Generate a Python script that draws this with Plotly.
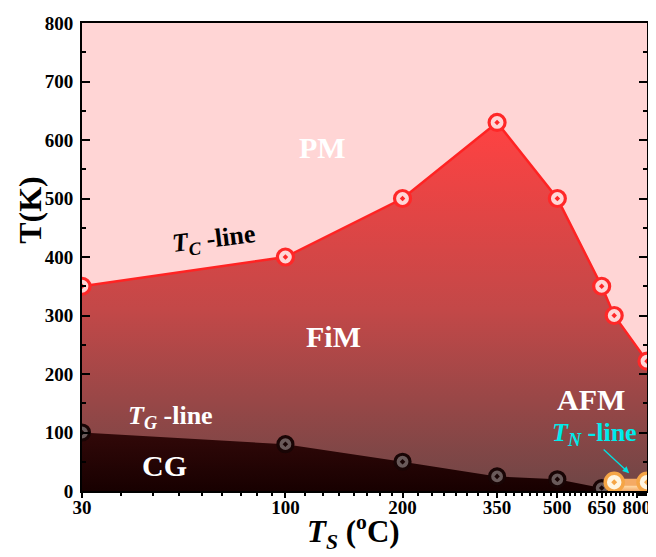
import numpy as np
import plotly.graph_objects as go

# ---- data ----
ts_tc = [30, 100, 200, 350, 500, 650, 700, 850]
tc = [350, 400, 500, 630, 500, 350, 300, 222]
ts_tg = [30, 100, 200, 350, 500, 650]
tg = [100, 80, 50, 25, 20, 5]
ts_tn = [700, 850]
tn = [15, 15]
x_ticks = [30, 100, 200, 350, 500, 650, 800]
y_ticks = [0, 100, 200, 300, 400, 500, 600, 700, 800]

FONT = "Liberation Serif"

# minor x ticks (linearly spaced between majors)
minor_x = []
edges = x_ticks + [850]
for i in range(len(edges) - 1):
    n = 9 if i == 0 else 8
    vals = np.linspace(edges[i], edges[i + 1], n + 1)[1:-1]
    minor_x.extend(vals.tolist())

fig = go.Figure()

# FiM region (under Tc line)
fig.add_trace(go.Scatter(
    x=ts_tc, y=tc, mode="none", fill="tozeroy",
    fillgradient=dict(type="vertical", start=0, stop=630,
                      colorscale=[[0, "rgb(108,70,70)"], [0.5, "rgb(195,72,72)"], [1, "rgb(255,66,66)"]]),
    hoverinfo="skip", showlegend=False))

# CG region (under Tg line)
fig.add_trace(go.Scatter(
    x=ts_tg + [680], y=tg + [0], mode="none", fill="tozeroy",
    fillgradient=dict(type="vertical", start=0, stop=100,
                      colorscale=[[0, "rgb(22,0,0)"], [1, "rgb(48,8,8)"]]),
    hoverinfo="skip", showlegend=False))

# AFM strip (under Tn line)
fig.add_trace(go.Scatter(
    x=ts_tn, y=tn, mode="lines", fill="tozeroy",
    line=dict(color="rgb(245,170,100)", width=7),
    fillgradient=dict(type="vertical", start=0, stop=15,
                      colorscale=[[0, "rgb(230,130,60)"], [1, "rgb(255,215,160)"]]),
    hoverinfo="skip", showlegend=False))

# Tc line + markers
fig.add_trace(go.Scatter(
    x=ts_tc, y=tc, mode="lines+markers",
    line=dict(color="rgb(255,35,35)", width=2.5),
    marker=dict(symbol="circle-dot", size=16, color="rgb(255,215,215)",
                line=dict(color="rgb(255,40,40)", width=3.2)),
    showlegend=False))

# Tg markers
fig.add_trace(go.Scatter(
    x=ts_tg, y=tg, mode="markers",
    marker=dict(symbol="circle-dot", size=15, color="rgb(105,90,90)",
                line=dict(color="rgb(25,5,5)", width=3.2)),
    showlegend=False))

# Tn markers
fig.add_trace(go.Scatter(
    x=ts_tn, y=tn, mode="markers",
    marker=dict(symbol="circle-dot", size=18, color="rgb(255,245,225)",
                line=dict(color="rgb(245,165,70)", width=3.5)),
    showlegend=False))

# page has an 8px body margin: lay the figure out so the plot area lands on
# page pixels left=82, right=651, top=19, bottom=491
OFF = 8
W, H = 656 - OFF, 557 - OFF
PL, PR, PT, PB = 82, 651, 19, 491
L, T = PL - OFF, PT - OFF
R = W - (PR - OFF)
B = H - (PB - OFF)
pw, ph = PR - PL, PB - PT
def px(xp): return (xp - PL) / pw
def py(yp): return (PB - yp) / ph

def ann(x, y, text, size, color, angle=0, **kw):
    fig.add_annotation(x=px(x), y=py(y), xref="paper", yref="paper", text=text,
                       showarrow=False, textangle=angle, xanchor="center", yanchor="middle",
                       font=dict(family=FONT, size=size, color=color), **kw)

ann(324, 145, "<b>PM</b>", 30, "white")
ann(335, 335, "<b>FiM</b>", 30, "white")
ann(215, 238, "<b><i>T</i><sub><i>C</i></sub> -line</b>", 26, "black", angle=-7)
ann(171, 416, "<b><i>T</i><sub><i>G</i></sub> -line</b>", 26, "white")
ann(165, 465, "<b>CG</b>", 30, "white")
ann(595, 399, "<b>AFM</b>", 30, "white")
ann(598, 434, "<b><i>T</i><sub><i>N</i></sub> -line</b>", 26, "rgb(0,235,235)")

# arrow for Tn line
fig.add_annotation(x=px(633), y=py(473), ax=-27, ay=-25, xref="paper", yref="paper",
                   axref="pixel", ayref="pixel", text="", showarrow=True,
                   arrowhead=2, arrowsize=1, arrowwidth=1.3, arrowcolor="rgb(0,225,225)")

# axis titles
ann(30, 207, "<b>T(K)</b>", 32, "black", angle=-90)
ann(355, 532, "<b><i>T</i><sub><i>S</i></sub> (<sup>o</sup>C)</b>", 31, "black")

fig.update_xaxes(type="log", range=[np.log10(30), np.log10(850)],
                 tickvals=x_ticks, ticktext=[str(v) for v in x_ticks],
                 ticks="outside", ticklen=5, tickwidth=2, tickcolor="black",
                 ticklabelstandoff=-7,
                 minor=dict(tickvals=minor_x, ticks="outside", ticklen=3, tickwidth=1.5, tickcolor="black"),
                 showline=True, linecolor="black", linewidth=2, mirror=True,
                 showgrid=False, zeroline=False,
                 tickfont=dict(family=FONT, size=19, color="black", weight="bold"))
fig.update_yaxes(range=[0, 800], tickvals=y_ticks,
                 ticks="inside", ticklen=8, tickwidth=2, tickcolor="black",
                 ticklabelstandoff=3,
                 minor=dict(dtick=50, ticks="inside", ticklen=4, tickwidth=2, tickcolor="black"),
                 showline=True, linecolor="black", linewidth=2, mirror="ticks",
                 showgrid=False, zeroline=False,
                 tickfont=dict(family=FONT, size=19, color="black", weight="bold"))

fig.update_layout(width=W, height=H, margin=dict(l=L, r=R, t=T, b=B),
                  plot_bgcolor="rgb(255,213,213)", paper_bgcolor="white",
                  showlegend=False)

fig.write_html("out.html")
